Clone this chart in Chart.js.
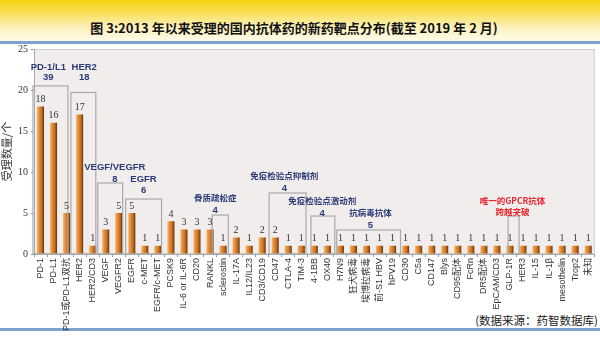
<!DOCTYPE html>
<html>
<head>
<meta charset="utf-8">
<script src="https://cdn.jsdelivr.net/npm/chart.js@4/dist/chart.umd.min.js"></script>
<style>
  html, body { margin: 0; padding: 0; background: #fff; }
  #page { position: relative; width: 600px; height: 348px; overflow: hidden; font-family: "Noto Sans CJK SC", "Liberation Sans", sans-serif; }
  #bar { position: absolute; left: 0; top: 0; width: 600px; height: 41px;
    background: linear-gradient(to bottom, #f6d20f 0%, #f9df55 30%, #fcf0b8 65%, #fffbea 100%); }
  #title { position: absolute; left: 0; top: 19px; width: 588px; text-align: center; font-size: 13px; font-weight: bold; color: #111; line-height: 18px; }
  .line { position: absolute; left: 0; width: 600px; height: 3px; background: #7fa2cf; }
  #source { position: absolute; right: 2px; top: 312px; font-size: 11.5px; color: #222; line-height: 16px; }
  canvas { position: absolute; left: 0; top: 0; }
</style>
</head>
<body>
<div id="page">
  <div id="bar"></div>
  <div id="title">图 3:2013 年以来受理的国内抗体药的新药靶点分布(截至 2019 年 2 月)</div>
  <div class="line" style="top:41px"></div>
  <div class="line" style="top:328px"></div>
  <div id="source">(数据来源：药智数据库)</div>
  <canvas id="chart" width="600" height="348"></canvas>
</div>
<script>
const targets = ["PD-1", "PD-L1", "PD-1或PD-L1双抗", "HER2", "HER2/CD3", "VEGF", "VEGFR2", "EGFR", "c-MET", "EGFR/c-MET",
  "PCSK9", "IL-6 or IL-6R", "CD20", "RANKL", "sclerostin", "IL-17A", "IL12/IL23", "CD3/CD19", "CD47", "CTLA-4",
  "TIM-3", "4-1BB", "OX40", "H7N9", "狂犬病毒", "埃博拉病毒", "前-S1 HBV", "hPV19", "CD30", "C5a",
  "CD147", "Blys", "CD95配体", "FcRn", "DR5配体", "EpCAM/CD3", "GLP-1R", "HER3", "IL-15", "IL-1β",
  "mesothelin", "Trop2", "未知"];
const counts = [18, 16, 5, 17, 1, 3, 5, 5, 1, 1,
  4, 3, 3, 3, 1, 2, 1, 2, 2, 1,
  1, 1, 1, 1, 1, 1, 1, 1, 1, 1,
  1, 1, 1, 1, 1, 1, 1, 1, 1, 1,
  1, 1, 1];
const yTicks = [0, 5, 10, 15, 20, 25];

// group boxes (category index range, box top value) and their labels
const groupNames = [["PD-1/L1", "39"], ["HER2", "18"], ["VEGF/VEGFR", "8"], ["EGFR", "6"], ["骨质疏松症", "4"],
  ["免疫检验点抑制剂", "4"], ["免疫检验点激动剂", "4"], ["抗病毒抗体", "5"], ["唯一的GPCR抗体", "跨越突破"]];
const groups = [
  { from: -0.58, to: 2.1, top: 20.5, lx: 0.6, ly: [22.8, 21.5] },
  { from: 2.33, to: 4.24, top: 19.7, lx: 3.35, ly: [22.8, 21.5] },
  { from: 4.39, to: 6.3, top: 8.66, lx: 5.7, ly: [10.6, 9.15] },
  { from: 6.53, to: 9.28, top: 6.7, lx: 7.9, ly: [9.15, 7.8] },
  { from: 13.17, to: 14.4, top: 4.75, lx: 13.4, ly: [6.83, 5.37] },
  { from: 17.53, to: 20.36, top: 7.44, lx: 18.7, ly: [9.5, 8.05] },
  { from: 20.74, to: 22.57, top: 4.63, lx: 21.6, ly: [6.46, 5.0] },
  { from: 22.72, to: 27.61, top: 2.93, lx: 25.3, ly: [5.0, 3.54] },
  { from: 35.86, to: 36.7, top: 4.63, lx: 36.2, ly: [6.46, 5.2], red: true }
];

const decor = {
  id: "decor",
  beforeDraw(chart) {
    const a = chart.chartArea, c = chart.ctx;
    c.save();
    c.fillStyle = "#f0edec";
    c.fillRect(a.left, a.top, a.right - a.left, a.bottom - a.top);
    c.strokeStyle = "#cfcfcf";
    c.lineWidth = 1;
    c.strokeRect(a.left + 0.5, a.top + 0.5, a.right - a.left - 1, a.bottom - a.top - 1);
    c.restore();
  },
  afterDatasetsDraw(chart) {
    const c = chart.ctx, x = chart.scales.x, y = chart.scales.y;
    c.save();
    // boxes
    c.strokeStyle = "#a9a9a9";
    c.lineWidth = 1.2;
    groups.forEach(g => {
      const l = x.getPixelForValue(g.from), r = x.getPixelForValue(g.to);
      const t = y.getPixelForValue(g.top), b = y.getPixelForValue(0);
      c.strokeRect(l, t, r - l, b - t);
    });
    // group labels
    c.textAlign = "center";
    c.textBaseline = "middle";
    groups.forEach((g, i) => {
      const px = x.getPixelForValue(g.lx);
      c.fillStyle = g.red ? "#e8262e" : "#2c3b78";
      groupNames[i].forEach((txt, k) => {
        const cjk = /[\u4e00-\u9fff]/.test(txt);
        c.font = (cjk ? "bold 8.5px 'Noto Sans CJK SC'" : "bold 9.5px 'Liberation Sans', 'Noto Sans CJK SC'");
        c.fillText(txt, px, y.getPixelForValue(g.ly[k]));
      });
    });
    // value labels
    c.fillStyle = "#333";
    c.font = "10px 'Liberation Serif'";
    c.textBaseline = "bottom";
    chart.getDatasetMeta(0).data.forEach((bar, i) => {
      c.fillText(counts[i], bar.x, bar.y - 2);
    });
    c.restore();
  }
};

function barFill(ctx) {
  const chart = ctx.chart;
  if (!chart.chartArea || !chart.scales.x) return "#d9822b";
  const cx = chart.scales.x.getPixelForValue(ctx.dataIndex);
  const w = 7;
  const g = chart.ctx.createLinearGradient(cx - w / 2, 0, cx + w / 2, 0);
  g.addColorStop(0, "#f5b46a");
  g.addColorStop(0.3, "#e58f3a");
  g.addColorStop(0.7, "#c06a1e");
  g.addColorStop(1, "#5e300a");
  return g;
}

new Chart(document.getElementById("chart"), {
  type: "bar",
  data: {
    labels: targets,
    datasets: [{
      data: counts,
      backgroundColor: barFill,
      borderWidth: 0,
      barPercentage: 0.54,
      categoryPercentage: 1
    }]
  },
  options: {
    responsive: false,
    animation: false,
    layout: { padding: { left: 0, right: 3, top: 49, bottom: 0 } },
    plugins: { legend: { display: false }, tooltip: { enabled: false } },
    scales: {
      x: {
        afterFit(s) { s.height = 94; },
        grid: { display: true, drawOnChartArea: false, tickLength: 3, color: "#999" },
        border: { display: true, color: "#aaa" },
        ticks: {
          autoSkip: false, minRotation: 90, maxRotation: 90, padding: 1, color: "#333",
          font: { size: 9, family: "'Liberation Sans', 'Noto Sans CJK SC'" }
        }
      },
      y: {
        min: 0, max: 25,
        afterFit(s) { s.width = 34; },
        afterBuildTicks(s) { s.ticks = yTicks.map(v => ({ value: v })); },
        grid: { display: true, drawOnChartArea: false, tickLength: 3, color: "#999" },
        border: { display: true, color: "#aaa" },
        title: { display: true, text: "受理数量/个", color: "#333", padding: { top: 0, bottom: 2 },
          font: { size: 11, family: "'Noto Sans CJK SC'" } },
        ticks: { color: "#333", padding: 3, font: { size: 10, family: "'Liberation Serif'" } }
      }
    }
  },
  plugins: [decor]
});
</script>
</body>
</html>
